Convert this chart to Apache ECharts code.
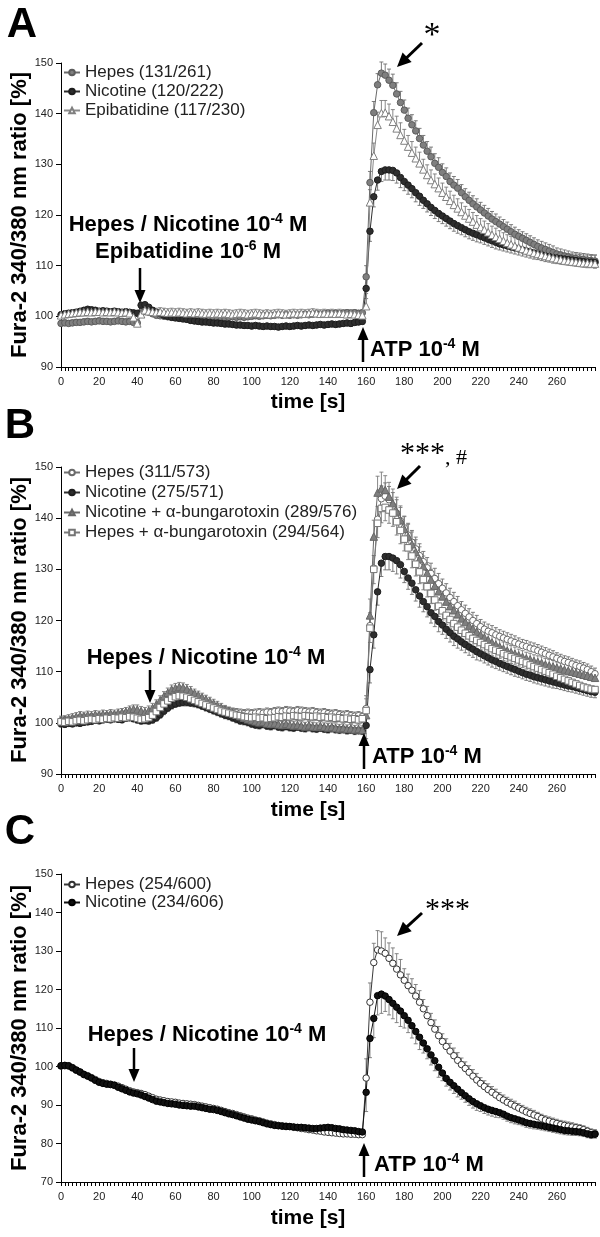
<!DOCTYPE html>
<html><head><meta charset="utf-8">
<script src="https://cdn.jsdelivr.net/npm/echarts@6/dist/echarts.min.js"></script>
<style>html,body{margin:0;padding:0;background:#fff}#c{width:600px;height:1237px}</style>
</head><body><div id="c"></div>
<script>
// ---------- DATA ----------
const timeSec = [0,2,4,6,8,10,12,14,16,18,20,22,24,26,28,30,32,34,36,38,40,42,44,46,48,50,52,54,56,58,60,62,64,66,68,70,72,74,76,78,80,82,84,86,88,90,92,94,96,98,100,102,104,106,108,110,112,114,116,118,120,122,124,126,128,130,132,134,136,138,140,142,144,146,148,150,152,154,156,158,160,162,164,166,168,170,172,174,176,178,180,182,184,186,188,190,192,194,196,198,200,202,204,206,208,210,212,214,216,218,220,222,224,226,228,230,232,234,236,238,240,242,244,246,248,250,252,254,256,258,260,262,264,266,268,270,272,274,276,278,280];
const xTickLabels = [0,20,40,60,80,100,120,140,160,180,200,220,240,260];

// Panel A
const aHepes = [98.6,98.7,98.6,98.7,98.8,98.8,98.9,99.0,98.9,99.0, 99.1,99.0,99.0,98.9,99.0,99.1,99.0,98.9,99.0,98.8,
 98.7,100.6,101.0,100.8,100.5,100.2,100.1,100.0,99.9,99.9, 100.0,99.9,100.0,99.9,99.8,99.9,99.8,99.9,99.8,99.7,
 99.8,99.7,99.8,99.7,99.8,99.9,99.8,99.9,99.8,99.9, 100.0,100.1,100.0,100.1,100.2,100.1,100.2,100.3,100.2,100.3,
 100.2,100.3,100.2,100.3,100.4,100.3,100.4,100.5,100.4,100.5, 100.6,100.5,100.6,100.5,100.6,100.7,100.6,100.7,100.6,100.7,
 107.8,126.4,140.2,145.7,148.0,147.6,146.6,145.6,143.9,142.2, 140.7,139.1,137.8,136.6,135.1,133.8,132.6,131.5,130.2,129.4,
 128.4,127.6,126.6,125.9,125.3,124.4,123.6,122.9,122.2,121.6, 121.0,120.4,119.8,119.2,118.7,118.2,117.7,117.2,116.7,116.2,
 115.8,115.4,115.0,114.6,114.2,113.8,113.5,113.2,112.9,112.6, 112.3,112.1,111.9,111.7,111.5,111.4,111.3,111.2,111.1,111.0, 110.9];
const aNicotine = [100.3,100.5,100.6,100.7,100.8,101.0,101.2,101.4,101.3,101.2, 101.0,101.1,101.0,100.9,101.0,100.9,100.8,100.9,100.8,100.7,
 100.6,102.2,102.3,101.8,101.2,100.8,100.5,100.2,100.0,99.8, 99.7,99.6,99.5,99.4,99.2,99.1,99.0,98.9,98.9,98.8,
 98.7,98.7,98.6,98.5,98.5,98.4,98.3,98.3,98.2,98.2, 98.1,98.2,98.1,98.0,98.1,98.0,98.0,97.9,98.0,98.1,
 98.0,98.1,98.2,98.1,98.2,98.3,98.2,98.3,98.4,98.3, 98.4,98.5,98.4,98.5,98.6,98.7,98.6,98.8,98.9,99.0,
 105.5,116.8,123.6,126.9,128.6,128.9,128.9,128.8,128.3,127.4, 126.6,125.9,125.2,124.4,123.7,122.9,122.2,121.5,120.9,120.3,
 119.8,119.3,118.8,118.3,117.9,117.5,117.1,116.7,116.4,116.1, 115.8,115.5,115.2,114.9,114.6,114.3,114.1,113.9,113.7,113.5,
 113.3,113.1,112.9,112.7,112.5,112.3,112.1,111.9,111.8,111.6, 111.5,111.4,111.3,111.2,111.1,111.0,110.9,110.8,110.7,110.7, 110.6];
const aEpibatidine = [100.2,100.4,100.5,100.6,100.7,100.8,100.8,100.9,100.8,100.9, 100.9,100.8,100.9,100.8,100.9,100.8,100.7,100.8,100.6,99.8,
 98.6,100.4,101.2,101.0,100.9,100.8,100.9,100.8,100.7,100.8, 100.7,100.8,100.7,100.6,100.7,100.6,100.7,100.6,100.5,100.6,
 100.5,100.6,100.5,100.6,100.5,100.4,100.5,100.6,100.5,100.4, 100.5,100.6,100.5,100.4,100.5,100.4,100.5,100.6,100.5,100.4,
 100.5,100.6,100.5,100.6,100.5,100.6,100.7,100.6,100.5,100.6, 100.5,100.6,100.5,100.6,100.5,100.4,100.5,100.4,100.3,100.2,
 102.0,122.5,131.7,137.8,140.1,140.2,139.5,138.4,137.1,135.8, 134.7,133.5,132.3,131.2,130.2,129.0,127.9,126.9,126.1,125.3,
 124.4,123.6,122.8,122.0,121.3,120.6,119.9,119.3,118.7,118.1, 117.6,117.1,116.6,116.1,115.7,115.3,114.9,114.5,114.2,113.9,
 113.6,113.3,113.0,112.8,112.5,112.3,112.1,111.9,111.7,111.5, 111.3,111.2,111.0,110.9,110.8,110.7,110.6,110.5,110.5,110.4, 110.4];

// Panel B
const bHepes = [100.3,100.5,100.4,100.6,100.7,100.9,101.0,100.9,101.1,101.0, 101.2,101.1,101.3,101.2,101.4,101.3,101.5,101.6,101.5,101.7,
 101.4,101.2,101.0,101.3,101.8,102.5,103.2,103.9,104.5,104.9, 105.1,105.2,105.1,104.9,104.6,104.3,104.0,103.7,103.4,103.1,
 102.9,102.7,102.5,102.4,102.2,102.1,102.0,101.9,101.8,101.9, 101.8,101.9,102.0,101.9,102.1,102.0,102.2,102.3,102.2,102.4,
 102.3,102.2,102.4,102.3,102.2,102.1,102.2,102.0,101.9,102.0, 101.8,101.7,101.8,101.6,101.5,101.6,101.4,101.3,101.4,101.2,
 102.8,119.0,130.2,139.8,143.8,144.3,143.6,142.4,141.0,139.5, 138.1,136.7,135.3,134.0,132.7,131.5,130.3,129.2,128.2,127.2,
 126.3,125.4,124.5,123.7,122.9,122.1,121.4,120.7,120.0,119.4, 118.8,118.3,117.9,117.6,117.2,116.9,116.6,116.3,116.0,115.7,
 115.4,115.1,114.9,114.6,114.4,114.1,113.8,113.5,113.2,112.9, 112.6,112.3,112.0,111.8,111.5,111.2,111.0,110.7,110.4,110.0, 109.6];
const bNicotine = [99.8,99.7,99.9,99.8,100.0,99.9,100.1,100.2,100.3,100.5, 100.4,100.6,100.7,100.6,100.8,100.7,100.6,100.9,101.0,100.8,
 100.6,100.4,100.5,100.4,100.6,101.0,101.6,102.3,102.9,103.4, 103.7,103.9,104.0,104.0,103.9,103.8,103.6,103.3,103.0,102.7,
 102.4,102.1,101.8,101.5,101.3,101.0,100.7,100.4,100.3,100.1, 99.8,99.6,99.5,99.7,99.4,99.3,99.5,99.2,99.1,99.3,
 99.1,99.0,99.2,99.0,98.9,99.1,98.9,98.8,99.0,98.8, 98.7,98.9,98.7,98.6,98.7,98.5,98.6,98.4,98.5,98.4,
 99.5,110.4,117.2,125.6,131.2,132.5,132.5,132.2,131.7,130.9, 129.6,128.3,127.3,126.0,124.8,123.7,122.7,121.5,120.8,119.8,
 119.1,118.3,117.6,116.9,116.4,115.8,115.3,114.8,114.4,113.9, 113.5,113.1,112.7,112.3,112.0,111.6,111.3,111.0,110.7,110.4,
 110.1,109.8,109.5,109.3,109.0,108.8,108.6,108.4,108.2,108.0, 107.8,107.6,107.4,107.2,107.1,106.9,106.7,106.5,106.3,106.1, 106.0];
const bNicotineBgt = [100.5,100.6,100.8,101.0,101.2,101.4,101.3,101.5,101.4,101.6, 101.5,101.7,101.6,101.8,101.7,101.9,102.0,102.2,102.5,102.7,
 102.6,102.3,102.1,102.4,102.9,103.6,104.4,105.2,105.9,106.5, 106.8,107.0,106.9,106.6,106.2,105.8,105.4,105.0,104.6,104.2,
 103.8,103.4,103.0,102.6,102.3,102.0,101.6,101.3,101.0,100.7, 100.5,100.3,100.1,100.2,99.9,99.8,99.9,99.7,99.6,99.8,
 99.6,99.5,99.6,99.4,99.3,99.5,99.3,99.2,99.4,99.2, 99.1,99.2,99.0,98.9,99.0,98.8,98.9,98.7,98.8,98.6,
 101.5,121.0,136.4,145.0,145.8,145.5,144.2,142.9,141.3,139.6, 137.9,136.4,134.9,133.4,132.0,130.6,129.3,128.0,126.8,125.7,
 124.7,123.7,122.8,122.0,121.2,120.4,119.7,119.0,118.4,117.8, 117.2,116.7,116.2,115.7,115.3,114.9,114.5,114.1,113.8,113.5,
 113.2,112.9,112.6,112.4,112.1,111.9,111.7,111.4,111.2,111.0, 110.8,110.6,110.4,110.2,110.0,109.8,109.6,109.4,109.2,109.0, 108.8];
const bHepesBgt = [100.2,100.1,100.3,100.2,100.4,100.5,100.4,100.6,100.7,100.6, 100.8,100.7,100.9,100.8,101.0,100.9,101.1,101.0,101.2,101.1,
 100.9,100.7,100.8,101.0,101.5,102.2,103.0,103.7,104.3,104.8, 105.1,105.3,105.2,105.0,104.7,104.4,104.1,103.8,103.5,103.2,
 102.9,102.6,102.3,102.1,101.9,101.7,101.5,101.4,101.2,101.1, 101.0,101.1,100.9,101.0,100.8,100.9,101.0,101.2,101.1,101.3,
 101.2,101.4,101.3,101.2,101.4,101.3,101.2,101.3,101.1,101.2, 101.0,101.1,100.9,101.0,100.8,100.9,100.7,100.8,100.6,100.8,
 102.4,118.5,130.0,139.0,141.9,142.1,141.6,141.0,139.3,137.6, 135.9,134.2,132.6,131.0,129.5,128.0,126.6,125.3,124.0,122.8,
 121.9,121.0,120.2,119.4,118.7,118.1,117.5,117.0,116.5,116.1, 115.7,115.3,114.9,114.5,114.2,113.9,113.5,113.2,112.9,112.6,
 112.3,112.0,111.7,111.3,111.0,110.7,110.4,110.1,109.8,109.5, 109.1,108.8,108.5,108.2,107.9,107.6,107.3,107.0,106.8,106.6, 106.5];

// Panel C
const cHepes = [100.1,100.2,100.1,99.6,99.0,98.5,98.0,97.6,97.1,96.6, 96.1,95.8,95.6,95.4,95.2,94.9,94.5,94.1,93.7,93.4,
 93.2,93.0,92.7,92.3,91.9,91.5,91.3,91.1,90.9,90.8, 90.7,90.5,90.4,90.3,90.2,90.1,89.9,89.7,89.5,89.3,
 89.1,88.9,88.6,88.3,88.0,87.8,87.5,87.2,86.9,86.6, 86.4,86.1,85.9,85.6,85.3,85.1,84.9,84.7,84.6,84.5,
 84.4,84.2,84.1,83.9,83.8,83.6,83.5,83.3,83.2,83.0, 82.9,82.8,82.7,82.6,82.5,82.5,82.4,82.4,82.3,82.3,
 97.0,116.7,127.0,130.3,130.0,129.4,128.1,126.8,125.3,123.8, 122.4,121.0,119.8,118.3,116.7,115.0,113.2,111.4,109.7,108.0,
 106.5,105.2,104.0,102.8,101.6,100.5,99.5,98.5,97.5,96.5, 95.6,94.8,94.0,93.3,92.6,91.9,91.3,90.7,90.2,89.7,
 89.2,88.7,88.2,87.8,87.4,87.0,86.5,86.1,85.8,85.5, 85.2,84.9,84.7,84.5,84.3,84.1,83.9,83.6,83.2,82.8, 82.6];
const cNicotine = [100.2,100.3,100.2,99.7,99.1,98.6,97.9,97.5,97.0,96.4, 95.9,95.6,95.4,95.3,95.1,94.6,94.2,93.8,93.4,93.1,
 92.9,92.6,92.2,91.8,91.4,91.0,90.8,90.6,90.4,90.3, 90.2,90.0,89.9,89.8,89.7,89.7,89.5,89.3,89.1,88.9,
 88.8,88.6,88.3,88.0,87.7,87.5,87.2,86.9,86.6,86.3, 86.1,85.9,85.7,85.4,85.1,84.9,84.7,84.6,84.5,84.4,
 84.4,84.3,84.2,84.2,84.1,84.0,83.9,83.9,84.0,84.1, 84.2,84.1,83.9,83.8,83.6,83.5,83.4,83.3,83.1,83.0,
 93.3,107.3,112.5,118.4,118.8,118.3,117.4,116.4,115.4,114.4, 113.2,112.0,110.6,109.1,107.6,106.1,104.6,103.0,101.5,99.8,
 98.3,96.9,95.9,95.0,94.1,93.2,92.4,91.6,90.9,90.3, 89.8,89.3,88.9,88.6,88.3,88.0,87.6,87.1,86.7,86.4,
 86.1,85.8,85.4,85.2,85.0,84.8,84.6,84.4,84.2,84.0, 83.8,83.6,83.4,83.3,83.2,83.1,83.0,82.8,82.5,82.3, 82.4];

// SEM read per 10-s bin (bins 0-9 s ... 280 s)
const aHepesErr = [0.6,0.6,0.6,0.6,0.7,0.7,0.7,0.6,0.6,0.6,0.6,0.6,0.6,0.6,0.6,0.6,2.2,2.2,2.0,1.9,1.7,1.6,1.5,1.4,1.3,1.3,1.2,1.2,1.2];
const aNicotineErr = [0.5,0.5,0.5,0.5,0.6,0.6,0.6,0.6,0.6,0.6,0.6,0.6,0.6,0.6,0.6,0.6,2.0,2.0,1.8,1.6,1.5,1.4,1.3,1.2,1.2,1.1,1.1,1.1,1.1];
const aEpibatidineErr = [0.7,0.7,0.7,0.7,0.8,0.8,0.8,0.8,0.8,0.8,0.8,0.8,0.8,0.8,0.8,0.8,2.5,2.4,2.2,2.0,1.9,1.8,1.7,1.6,1.6,1.5,1.5,1.6,1.7];
const bHepesErr = [0.7,0.7,0.7,0.8,0.8,0.8,0.8,0.8,0.8,0.8,0.8,0.8,0.8,0.8,0.8,0.8,2.5,2.6,2.3,2.0,1.8,1.6,1.4,1.3,1.2,1.2,1.1,1.1,1.1];
const bNicotineErr = [0.6,0.6,0.6,0.6,0.7,0.7,0.7,0.7,0.7,0.7,0.7,0.7,0.7,0.7,0.7,0.7,2.6,2.6,2.2,2.0,1.8,1.6,1.4,1.3,1.2,1.2,1.1,1.1,1.1];
const bNicotineBgtErr = [0.8,0.8,0.8,0.8,0.9,0.9,0.9,0.8,0.8,0.8,0.8,0.8,0.8,0.8,0.8,0.8,3.2,2.8,2.4,2.0,1.8,1.6,1.4,1.3,1.2,1.2,1.1,1.1,1.1];
const bHepesBgtErr = [0.7,0.7,0.7,0.7,0.8,0.8,0.8,0.8,0.8,0.8,0.8,0.8,0.8,0.8,0.8,0.8,2.8,2.6,2.3,2.0,1.8,1.6,1.4,1.3,1.2,1.2,1.1,1.1,1.1];
const cHepesErr = [0.5,0.5,0.5,0.5,0.5,0.5,0.5,0.5,0.5,0.5,0.5,0.5,0.5,0.5,0.5,0.5,5.0,4.0,3.0,2.4,2.0,1.7,1.5,1.3,1.2,1.1,1.1,1.0,1.0];
const cNicotineErr = [0.5,0.5,0.5,0.5,0.5,0.5,0.5,0.5,0.5,0.5,0.5,0.5,0.5,0.5,0.5,0.5,5.0,4.0,3.2,2.6,2.0,1.7,1.5,1.3,1.2,1.1,1.1,1.0,1.0];

const namesA = ['Hepes (131/261)','Nicotine (120/222)','Epibatidine (117/230)'];
const namesB = ['Hepes (311/573)','Nicotine (275/571)','Nicotine + α-bungarotoxin (289/576)','Hepes + α-bungarotoxin (294/564)'];
const namesC = ['Hepes (254/600)','Nicotine (234/606)'];

// ---------- CHART ----------
const F = "'Liberation Sans', Arial, sans-serif";
const FS = "'Liberation Serif', 'Times New Roman', serif";
const chart = echarts.init(document.getElementById('c'), null, {renderer:'canvas'});

const grids = [
  {left:61, top:63, width:534, height:304},
  {left:61, top:467, width:534, height:307},
  {left:61, top:874, width:534, height:308}
];
function xAx(gi){
  return {type:'value', gridIndex:gi, min:0, max:280, interval:20,
    axisLine:{show:true, onZero:false, lineStyle:{color:'#000', width:1}},
    axisTick:{show:true, inside:false, length:4, lineStyle:{color:'#000'}},
    minorTick:{show:true, splitNumber:10, length:4, lineStyle:{color:'#000'}},
    splitLine:{show:false}, minorSplitLine:{show:false},
    axisLabel:{fontSize:11, fontFamily:F, color:'#222', margin:9,
      formatter: v => xTickLabels.indexOf(v) >= 0 ? String(v) : ''}};
}
function yAx(gi, mn){
  return {type:'value', gridIndex:gi, min:mn, max:150, interval:10,
    axisLine:{show:true, onZero:false, lineStyle:{color:'#000', width:1}},
    axisTick:{show:true, inside:false, length:5, lineStyle:{color:'#000'}},
    splitLine:{show:false},
    axisLabel:{fontSize:11, fontFamily:F, color:'#222', margin:8}};
}
function mkLine(name, vals, gi, sym, size, fill, stroke, lineColor){
  return {type:'line', name, xAxisIndex:gi, yAxisIndex:gi,
    data: timeSec.map((t,i)=>[t, vals[i]]),
    symbol:sym, symbolSize:size, showSymbol:true, showAllSymbol:true,
    itemStyle:{color:fill, borderColor:stroke, borderWidth:1},
    lineStyle:{color:lineColor, width:1}, z:3, clip:false, animation:false,
    emphasis:{disabled:true}, silent:true};
}
function mkErr(name, vals, errs, dir, gi, color){
  return {type:'custom', name, xAxisIndex:gi, yAxisIndex:gi, z:2, silent:true, clip:false, animation:false,
    data: timeSec.map((t,i)=>[t, vals[i], dir*errs[Math.min(errs.length-1, Math.floor(t/10))]]),
    encode:{x:0, y:1},
    renderItem: function(params, api){
      const t = api.value(0), v = api.value(1), e = api.value(2);
      const p0 = api.coord([t, v]), p1 = api.coord([t, v+e]);
      const w = 2;
      return {type:'group', children:[
        {type:'line', shape:{x1:p0[0], y1:p0[1], x2:p1[0], y2:p1[1]}, style:{stroke:color, lineWidth:0.9}},
        {type:'line', shape:{x1:p1[0]-w, y1:p1[1], x2:p1[0]+w, y2:p1[1]}, style:{stroke:color, lineWidth:0.9}}
      ]};
    }};
}

const series = [
  mkErr('eA1', aHepes, aHepesErr, 1, 0, '#6e6e6e'),
  mkErr('eA2', aNicotine, aNicotineErr, -1, 0, '#6e6e6e'),
  mkErr('eA3', aEpibatidine, aEpibatidineErr, 1, 0, '#7a7a7a'),
  mkLine(namesA[0], aHepes, 0, 'circle', 6.5, '#7f7f7f', '#5c5c5c', '#6a6a6a'),
  mkLine(namesA[1], aNicotine, 0, 'circle', 6.5, '#2e2e2e', '#1e1e1e', '#2e2e2e'),
  mkLine(namesA[2], aEpibatidine, 0, 'triangle', 7.5, '#ffffff', '#808080', '#8a8a8a'),

  mkErr('eB1', bHepes, bHepesErr, 1, 1, '#6e6e6e'),
  mkErr('eB2', bNicotine, bNicotineErr, -1, 1, '#6e6e6e'),
  mkErr('eB3', bNicotineBgt, bNicotineBgtErr, 1, 1, '#7a7a7a'),
  mkErr('eB4', bHepesBgt, bHepesBgtErr, -1, 1, '#7a7a7a'),
  mkLine(namesB[0], bHepes, 1, 'circle', 6.5, '#ffffff', '#6a6a6a', '#707070'),
  mkLine(namesB[1], bNicotine, 1, 'circle', 6.5, '#2e2e2e', '#1e1e1e', '#2e2e2e'),
  mkLine(namesB[2], bNicotineBgt, 1, 'triangle', 7.5, '#7f7f7f', '#666666', '#6a6a6a'),
  mkLine(namesB[3], bHepesBgt, 1, 'rect', 6.5, '#ffffff', '#757575', '#7a7a7a'),

  mkErr('eC1', cHepes, cHepesErr, 1, 2, '#777777'),
  mkErr('eC2', cNicotine, cNicotineErr, -1, 2, '#777777'),
  mkLine(namesC[0], cHepes, 2, 'circle', 6.5, '#ffffff', '#333333', '#3a3a3a'),
  mkLine(namesC[1], cNicotine, 2, 'circle', 6.5, '#111111', '#000000', '#111111')
];

function legendAt(data, top, gap){
  return {data, left:63, top, orient:'vertical', padding:0, itemGap:gap, itemWidth:16, itemHeight:7,
    selectedMode:false, textStyle:{fontSize:17, fontFamily:F, color:'#222'}};
}

// ---------- ANNOTATIONS ----------
function arrow(x1, y1, x2, y2, lw, hl, hw){
  const dx = x2-x1, dy = y2-y1, L = Math.hypot(dx, dy), ux = dx/L, uy = dy/L;
  const bx = x2-ux*hl, by = y2-uy*hl, px = -uy, py = ux;
  return [
    {type:'line', z:100, shape:{x1, y1, x2:bx+ux, y2:by+uy}, style:{stroke:'#000', lineWidth:lw}},
    {type:'polygon', z:100, shape:{points:[[x2,y2],[bx+px*hw/2, by+py*hw/2],[bx-px*hw/2, by-py*hw/2]]}, style:{fill:'#000'}}
  ];
}
function supText(x, y, base, sup, tail, align){
  return {type:'text', x, y, z:100, style:{
    text:'{b|'+base+'}{s|'+sup+'}{b|'+tail+'}',
    rich:{b:{fontSize:22, fontWeight:'bold', fontFamily:F, fill:'#000', lineHeight:26},
          s:{fontSize:14, fontWeight:'bold', fontFamily:F, fill:'#000', lineHeight:14, verticalAlign:'top'}},
    textAlign:align, textVerticalAlign:'middle', align:align, verticalAlign:'middle'}};
}
function plain(x, y, txt, font, align, rot){
  const o = {type:'text', x, y, z:100, style:{text:txt, font, fill:'#000', textAlign:align||'center', textVerticalAlign:'middle', align:align||'center', verticalAlign:'middle'}};
  if (rot) o.rotation = rot;
  return o;
}
const yTitle = 'Fura-2 340/380 nm ratio [%]';
const graphic = [
  plain(22, 25, 'A', 'bold 42px '+F),
  plain(20, 426, 'B', 'bold 42px '+F),
  plain(20, 832, 'C', 'bold 42px '+F),
  plain(20, 215, yTitle, 'bold 22px '+F, 'center', Math.PI/2),
  plain(20, 620, yTitle, 'bold 22px '+F, 'center', Math.PI/2),
  plain(20, 1028, yTitle, 'bold 22px '+F, 'center', Math.PI/2),
  plain(308, 402, 'time [s]', 'bold 21px '+F),
  plain(308, 810, 'time [s]', 'bold 21px '+F),
  plain(308, 1218, 'time [s]', 'bold 21px '+F),
  // A
  supText(188, 225, 'Hepes / Nicotine 10', '-4', ' M', 'center'),
  supText(188, 252, 'Epibatidine 10', '-6', ' M', 'center'),
  ...arrow(140, 268, 140, 303, 2.5, 13, 11),
  supText(370, 350, 'ATP 10', '-4', ' M', 'left'),
  ...arrow(363, 362, 363, 327, 2.5, 13, 11),
  plain(432, 36, '*', '34px '+FS),
  ...arrow(422, 43, 397, 67, 3, 14, 13),
  // B
  supText(206, 658, 'Hepes / Nicotine 10', '-4', ' M', 'center'),
  ...arrow(150, 670, 150, 703, 2.5, 13, 11),
  supText(372, 757, 'ATP 10', '-4', ' M', 'left'),
  ...arrow(364, 769, 364, 733, 2.5, 13, 11),
  {type:'text', x:400, y:454, z:100, style:{text:'{a|***}{c|, #}',
    rich:{a:{fontSize:30, fontFamily:FS, fill:'#000', lineHeight:30}, c:{fontSize:22, fontFamily:FS, fill:'#000', lineHeight:30, verticalAlign:'bottom'}},
    textAlign:'left', textVerticalAlign:'middle', align:'left', verticalAlign:'middle'}},
  ...arrow(420, 466, 397, 489, 3, 14, 13),
  // C
  supText(207, 1035, 'Hepes / Nicotine 10', '-4', ' M', 'center'),
  ...arrow(134, 1048, 134, 1082, 2.5, 13, 11),
  supText(374, 1165, 'ATP 10', '-4', ' M', 'left'),
  ...arrow(364, 1177, 364, 1143, 2.5, 13, 11),
  plain(425, 910, '***', '30px '+FS, 'left'),
  ...arrow(422, 913, 397, 936, 3, 14, 13)
];

chart.setOption({
  backgroundColor:'#fff',
  animation:false,
  grid: grids,
  xAxis: [xAx(0), xAx(1), xAx(2)],
  yAxis: [yAx(0, 90), yAx(1, 90), yAx(2, 70)],
  legend: [legendAt(namesA, 64, 2), legendAt(namesB, 464, 3), legendAt(namesC, 876, 1)],
  series,
  graphic
});
</script>
</body></html>
